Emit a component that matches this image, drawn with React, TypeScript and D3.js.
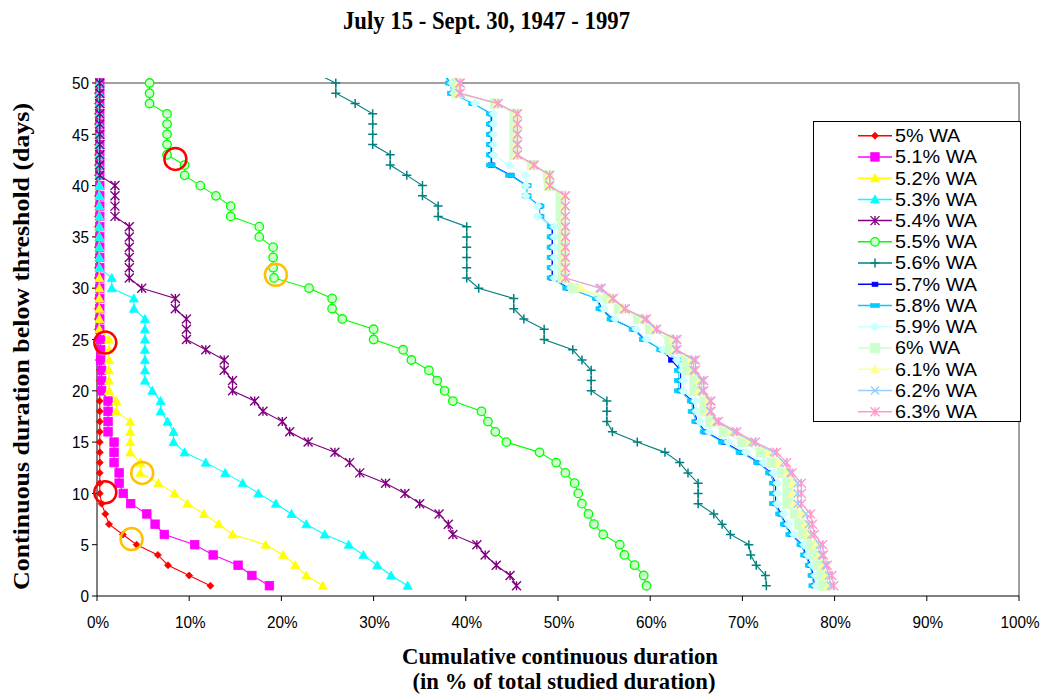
import React from "react";
import * as d3 from "d3";

// ---------- DATA ----------
const days = [1,2,3,4,5,6,7,8,9,10,11,12,13,14,15,16,17,18,19,20,21,22,23,24,25,26,27,28,29,30,31,32,33,34,35,36,37,38,39,40,41,42,43,44,45,46,47,48,49,50,51];

const wa50 = [12.3,10.0,7.7,6.6,4.3,2.8,1.3,0.9,0.5,0.3, 0.3,0.3,0.3,0.3,0.3,0.3,0.3,0.3,0.3,0.3, 0.3,0.3,0.2,0.2,0.2,0.1,0.1,0.1,0.1,0.1, 0.1,0.1,0.1,0.1,0.1,0.1,0.1,0.1,0.1,0.1, 0.1,0.1,0.1,0.1,0.1,0.1,0.1,0.1,0.1,0.1, 0.1];
const wa51 = [18.7,16.8,15.3,12.6,10.6,7.3,6.3,5.4,3.65,2.85, 2.4,2.4,1.85,1.85,1.85,1.2,1.2,1.2,1.2,0.5, 0.5,0.5,0.4,0.4,0.4,0.3,0.3,0.3,0.3,0.3, 0.3,0.3,0.3,0.3,0.3,0.3,0.3,0.3,0.3,0.3, 0.3,0.3,0.3,0.3,0.3,0.3,0.3,0.3,0.3,0.3, 0.3];
const wa52 = [24.5,22.7,21.5,20.2,18.3,14.7,13.2,11.6,9.8,8.4, 6.65,4.7,4.7,3.6,3.6,3.6,3.6,2.1,2.1,1.3, 1.3,1.3,1.3,1.3,1.3,0.25,0.25,0.25,0.25,0.25, 0.25,0.25,0.25,0.25,0.25,0.25,0.25,0.25,0.25,0.25, 0.25,0.25,0.25,0.25,0.25,0.25,0.25,0.25,0.25,0.25, 0.25];
const wa53 = [33.7,31.9,30.4,28.9,27.3,24.7,22.7,21.1,19.4,17.5, 15.8,13.9,11.8,9.5,8.3,8.3,7.65,6.9,6.9,6.0, 5.2,5.2,5.2,5.2,5.2,5.2,5.2,4.0,4.0,1.6, 1.6,0.25,0.25,0.25,0.25,0.25,0.25,0.25,0.25,0.25, 0.25,0.25,0.25,0.25,0.25,0.25,0.25,0.25,0.25,0.25, 0.25];
const wa54 = [45.5,44.8,43.3,42.1,41.2,38.6,38.1,37.1,35.0,33.4, 31.3,28.5,27.4,25.8,22.9,20.9,20.1,18.0,17.1,14.7, 14.7,13.8,13.8,11.8,9.7,9.7,9.7,8.5,8.5,4.85, 3.5,3.5,3.5,3.5,3.5,3.5,1.95,1.95,1.95,1.95, 0.3,0.3,0.3,0.3,0.3,0.3,0.3,0.3,0.3,0.3, 0.3];
const wa55 = [59.6,59.3,58.3,57.2,56.7,54.9,53.9,53.3,52.6,52.2, 51.8,50.8,49.8,48.0,44.4,43.2,42.4,41.7,38.6,37.7, 36.9,36.0,34.1,33.2,30.0,30.0,26.6,25.5,25.5,23.0, 19.2,19.1,19.1,19.1,17.6,17.6,14.5,14.5,12.9,11.2, 9.5,9.5,7.6,7.6,7.6,7.6,7.6,5.7,5.7,5.7, 5.7];
const wa56 = [72.6,72.5,71.5,70.9,70.7,68.7,67.8,66.9,65.2,65.2, 65.2,64.1,63.2,61.6,58.6,55.9,55.3,55.3,55.3,53.6, 53.6,53.6,52.6,51.6,48.5,48.5,46.3,45.2,45.2,41.4, 40.1,40.1,40.1,40.1,40.1,40.1,37.0,37.0,35.3,35.3, 33.6,31.8,31.8,29.9,29.9,29.9,29.9,28.0,25.9,25.9, 23.6];
const wa57 = [77.8,77.7,77.4,76.9,76.5,75.3,74.7,74.2,73.6,73.6, 73.6,73.1,71.8,70.0,68.0,66.0,65.1,64.8,64.6,63.3, 63.3,63.3,62.3,61.3,59.4,58.3,55.9,54.7,54.3,51.2, 49.4,49.4,49.4,49.4,49.4,49.4,48.0,48.0,46.6,46.6, 44.9,42.8,42.8,42.8,42.8,42.8,42.8,40.9,38.6,38.4, 37.5];
const wa58 = [77.7,77.6,77.3,76.8,76.4,75.2,74.6,74.1,73.4,73.4, 73.4,73.0,71.7,69.8,67.9,65.9,65.0,64.6,64.5,63.1, 63.1,63.1,63.1,61.2,59.3,58.2,55.8,54.6,54.2,51.0, 49.3,49.3,49.3,49.3,49.3,49.3,48.0,48.0,46.6,46.6, 44.8,42.7,42.7,42.7,42.7,42.7,42.7,40.8,38.5,38.3, 37.4];
const wa59 = [78.0,77.9,77.6,77.1,76.7,75.6,75.0,74.5,73.8,73.8, 73.8,73.4,72.3,70.4,68.5,66.4,65.4,65.0,64.9,63.6, 63.6,63.5,62.9,61.4,59.6,58.5,56.2,55.0,54.5,51.4, 49.6,49.6,49.6,49.6,49.6,49.6,47.8,47.8,46.5,46.5, 46.5,44.7,43.0,43.0,43.0,43.0,43.0,41.0,38.7,38.5, 37.6];
const wa60 = [78.8,78.6,78.2,77.8,77.5,76.6,76.2,75.7,74.9,74.9, 74.9,74.3,73.2,72.0,70.0,68.0,66.5,65.9,65.9,64.8, 64.8,64.0,63.9,62.2,62.1,60.0,58.7,56.6,55.4,51.7, 50.5,50.5,50.5,50.5,50.5,50.5,50.3,50.3,50.3,49.0, 48.9,47.2,45.3,45.3,45.3,45.3,45.3,43.2,39.0,39.0, 38.0];
const wa61 = [79.3,79.1,78.7,78.3,78.0,77.1,76.8,76.4,75.6,75.5, 75.5,74.9,74.0,72.9,70.8,68.8,67.0,66.3,66.3,65.3, 65.3,64.5,64.4,62.6,62.5,60.4,59.2,57.0,55.7,52.5, 50.7,50.7,50.7,50.7,50.7,50.7,50.7,50.7,50.7,49.0, 49.0,47.3,45.5,45.5,45.5,45.5,45.5,43.4,39.2,39.2, 38.2];
const wa62 = [79.6,79.4,79.0,78.6,78.4,77.5,77.2,76.9,76.0,76.0, 76.0,75.2,74.5,73.4,71.1,69.1,67.2,66.5,66.5,65.6, 65.6,64.7,64.7,62.8,62.8,60.6,59.4,57.2,55.9,54.5, 50.8,50.8,50.8,50.8,50.8,50.8,50.8,50.8,50.8,49.1, 49.1,47.4,45.6,45.6,45.6,45.6,45.6,43.5,39.3,39.3, 38.3];
const wa63 = [79.9,79.7,79.2,78.8,78.7,77.8,77.6,77.4,76.4,76.4, 76.4,75.4,74.8,73.7,71.4,69.4,67.4,66.6,66.6,65.8, 65.8,64.9,64.9,62.9,62.9,60.7,59.6,57.3,56.0,54.7, 50.8,50.8,50.8,50.8,50.8,50.8,50.8,50.8,50.8,49.1, 49.1,47.4,45.6,45.6,45.6,45.6,45.6,43.5,39.4,39.4, 38.4];

const seriesNames = ["5% WA","5.1% WA","5.2% WA","5.3% WA","5.4% WA","5.5% WA","5.6% WA","5.7% WA","5.8% WA","5.9% WA","6% WA","6.1% WA","6.2% WA","6.3% WA"];
const seriesValues = [wa50,wa51,wa52,wa53,wa54,wa55,wa56,wa57,wa58,wa59,wa60,wa61,wa62,wa63];

const xTicks = [0,10,20,30,40,50,60,70,80,90,100];
const yTicks = [0,5,10,15,20,25,30,35,40,45,50];

// annotation circles (percent, days)
const annoPct = [8.5, 19.4, 0.9, 4.9, 0.9, 3.75];
const annoDay = [42.6, 31.3, 24.7, 12.0, 10.1, 5.55];
const annoTone = ["red","orange","red","orange","red","orange"];

// ---------- STYLE ----------
type Style = { stroke: string; fill: string; marker: string; size: number };
const styles: Style[] = [
  { stroke: "#FF0000", fill: "#FF0000", marker: "diamond", size: 7 },
  { stroke: "#FF00FF", fill: "#FF00FF", marker: "square", size: 8.5 },
  { stroke: "#FFFF00", fill: "#FFFF00", marker: "triangle", size: 9 },
  { stroke: "#00FFFF", fill: "#00FFFF", marker: "triangle", size: 9 },
  { stroke: "#800080", fill: "#800080", marker: "star", size: 9 },
  { stroke: "#00FF00", fill: "#CCFFCC", marker: "circle", size: 9.5 },
  { stroke: "#008080", fill: "#008080", marker: "plus", size: 9 },
  { stroke: "#0000FF", fill: "#0000FF", marker: "smallsq", size: 5 },
  { stroke: "#00CCFF", fill: "#00CCFF", marker: "dash", size: 8 },
  { stroke: "#CCFFFF", fill: "#CCFFFF", marker: "diamond", size: 9 },
  { stroke: "#CCFFCC", fill: "#CCFFCC", marker: "square", size: 9.5 },
  { stroke: "#FFFF99", fill: "#FFFF99", marker: "triangle", size: 9 },
  { stroke: "#99CCFF", fill: "#99CCFF", marker: "x", size: 8 },
  { stroke: "#FF99CC", fill: "#FF99CC", marker: "star", size: 9 },
];

const PL = 97, PR = 1019, PT = 83, PB = 596;
const x = d3.scaleLinear().domain([0, 100]).range([PL, PR]);
const y = d3.scaleLinear().domain([0, 50]).range([PB, PT]);

function Marker({ st, cx, cy }: { st: Style; cx: number; cy: number }) {
  const s = st.size, h = s / 2;
  switch (st.marker) {
    case "diamond":
      return <path d={`M${cx},${cy - h}L${cx + h},${cy}L${cx},${cy + h}L${cx - h},${cy}Z`} fill={st.fill} stroke={st.stroke} strokeWidth={0.8} />;
    case "square":
      return <rect x={cx - h} y={cy - h} width={s} height={s} fill={st.fill} stroke={st.stroke} strokeWidth={0.8} />;
    case "smallsq":
      return <rect x={cx - 3} y={cy - 2.2} width={6} height={4.4} fill={st.fill} stroke={st.stroke} strokeWidth={0.6} />;
    case "dash":
      return <rect x={cx - 4.5} y={cy - 2} width={9} height={4} fill={st.fill} stroke={st.stroke} strokeWidth={0.6} />;
    case "triangle":
      return <path d={`M${cx},${cy - h}L${cx + h},${cy + h * 0.8}L${cx - h},${cy + h * 0.8}Z`} fill={st.fill} stroke={st.stroke} strokeWidth={0.8} />;
    case "circle":
      return <circle cx={cx} cy={cy} r={h - 0.5} fill={st.fill} stroke={st.stroke} strokeWidth={1.3} />;
    case "plus":
      return <path d={`M${cx - h},${cy}L${cx + h},${cy}M${cx},${cy - h}L${cx},${cy + h}`} stroke={st.stroke} strokeWidth={1.5} fill="none" />;
    case "x":
      return <path d={`M${cx - h},${cy - h}L${cx + h},${cy + h}M${cx - h},${cy + h}L${cx + h},${cy - h}`} stroke={st.stroke} strokeWidth={1.4} fill="none" />;
    case "star":
      return <path d={`M${cx - h},${cy - h}L${cx + h},${cy + h}M${cx - h},${cy + h}L${cx + h},${cy - h}M${cx},${cy - h}L${cx},${cy + h}`} stroke={st.stroke} strokeWidth={1.4} fill="none" />;
  }
  return null;
}

export default function App() {
  const line = d3.line<number>().x((v) => x(v)).y((_, i) => y(days[i]));
  const legendTop = 135.7, legendStep = 21.23;
  const serif = "'Liberation Serif', 'Times New Roman', serif";
  const sans = "'Liberation Sans', Arial, sans-serif";
  return (
    <div style={{ position: "absolute", left: 0, top: 0 }}>
      <svg width={1042} height={694} style={{ display: "block", background: "#fff" }}>
        <defs>
          <clipPath id="plotclip">
            <rect x={PL - 2} y={PT - 5} width={PR - PL + 4} height={PB - PT + 7} />
          </clipPath>
        </defs>
        {/* title */}
        <text x={486.5} y={29} textAnchor="middle" fontFamily={serif} fontWeight="bold" fontSize={25} textLength={287} lengthAdjust="spacingAndGlyphs">July 15 - Sept. 30, 1947 - 1997</text>

        {/* plot border */}
        <line x1={PL} x2={PR} y1={PT} y2={PT} stroke="#808080" strokeWidth={1.5} />
        <line x1={PR} x2={PR} y1={PT} y2={PB} stroke="#808080" strokeWidth={1.5} />

        {/* axes */}
        <line x1={PL} x2={PL} y1={PT} y2={PB} stroke="#000" strokeWidth={1} />
        <line x1={PL} x2={PR} y1={PB} y2={PB} stroke="#000" strokeWidth={1} />
        {xTicks.map((t) => (
          <g key={"xt" + t}>
            <line x1={x(t)} x2={x(t)} y1={PB} y2={PB + 5} stroke="#000" />
            <text transform={`translate(${x(t) + 1},628) scale(0.88,1)`} textAnchor="middle" fontFamily={sans} fontSize={17.4}>{t + "%"}</text>
          </g>
        ))}
        {yTicks.map((t) => (
          <g key={"yt" + t}>
            <line x1={PL - 5} x2={PL} y1={y(t)} y2={y(t)} stroke="#000" />
            <text transform={`translate(89,${y(t) + 6.2}) scale(0.88,1)`} textAnchor="end" fontFamily={sans} fontSize={17.4}>{t}</text>
          </g>
        ))}

        {/* axis titles */}
        <text x={560} y={664} textAnchor="middle" fontFamily={serif} fontWeight="bold" fontSize={23.5} textLength={316} lengthAdjust="spacingAndGlyphs">Cumulative continuous duration</text>
        <text x={564} y={688.5} textAnchor="middle" fontFamily={serif} fontWeight="bold" fontSize={23.5} textLength={303} lengthAdjust="spacingAndGlyphs">(in % of total studied duration)</text>
        <text transform="translate(29,346.5) rotate(-90)" textAnchor="middle" fontFamily={serif} fontWeight="bold" fontSize={22.7} textLength={487} lengthAdjust="spacingAndGlyphs">Continuous duration below threshold (days)</text>

        {/* series */}
        {seriesValues.map((vals, si) => {
          const st = styles[si];
          return (
            <g key={"s" + si}>
              <path d={line(vals) || ""} fill="none" stroke={st.stroke} strokeWidth={1.1} clipPath="url(#plotclip)" />
              {vals.map((v, i) =>
                days[i] <= 50 ? <Marker key={i} st={st} cx={x(v)} cy={y(days[i])} /> : null
              )}
            </g>
          );
        })}

        {/* annotation circles */}
        {annoPct.map((p, i) => (
          <circle key={"a" + i} cx={x(p)} cy={y(annoDay[i])} r={11} fill="none" stroke={annoTone[i] === "red" ? "#FF0000" : "#FFC000"} strokeWidth={2.5} />
        ))}

        {/* legend */}
        <rect x={813.5} y={121.5} width={207} height={300} fill="#fff" stroke="#000" strokeWidth={1} />
        {seriesNames.map((n, i) => {
          const cy = legendTop + i * legendStep;
          const st = styles[i];
          return (
            <g key={"l" + i}>
              <line x1={858} x2={892} y1={cy} y2={cy} stroke={st.stroke} strokeWidth={1.5} />
              <Marker st={st} cx={875} cy={cy} />
              <text transform={`translate(895,${cy + 6.4}) scale(1.12,1)`} fontFamily={sans} fontSize={17.7}>{n}</text>
            </g>
          );
        })}
      </svg>
    </div>
  );
}
